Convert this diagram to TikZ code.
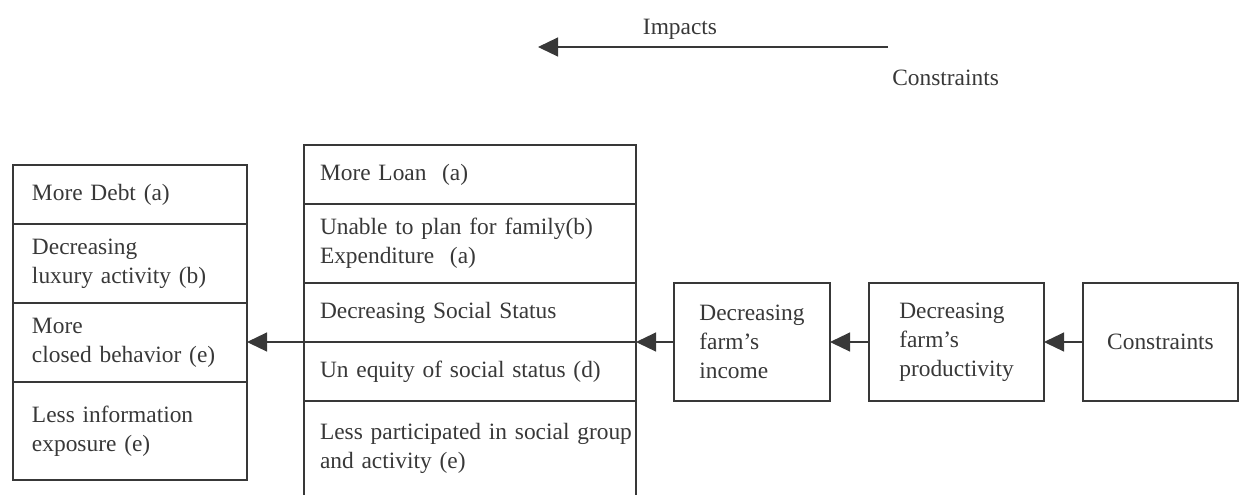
\documentclass[tikz,border=0pt]{standalone}
\usepackage{fontspec}
\setmainfont{Liberation Serif}
\usetikzlibrary{arrows.meta}
\definecolor{ink}{HTML}{383838}
\def\px{0.5pt}

\begin{document}
\begin{tikzpicture}[x=\px, y=-\px, line width=0.6pt, color=ink,
    every node/.style={font=\fontsize{11.7}{14.6}\selectfont},
    leftcell/.style={draw, anchor=north west, outer sep=0pt, inner xsep=9.5pt, inner ysep=0pt, text width=98pt, align=left},
    midcell/.style={draw, anchor=north west, outer sep=0pt, inner xsep=8pt, inner ysep=0pt, text width=150pt, align=left},
    chainbox/.style={draw, outer sep=0pt, minimum height=118*\px, inner sep=0pt, align=left},
    arr/.style={-{Triangle[length=10pt, width=9.5pt]}}]
      \useasboundingbox (0,0) rectangle (1239,495);
      \node[leftcell, minimum height=59*\px] (l1) at (13,165) {More Debt (a)};
      \node[leftcell, minimum height=79*\px] (l2) at (13,224) {Decreasing\\luxury activity (b)};
      \node[leftcell, minimum height=79*\px] (l3) at (13,303) {More\\closed behavior (e)};
      \node[leftcell, minimum height=98*\px] (l4) at (13,382) {Less information\\exposure (e)};
      \node[midcell, minimum height=59*\px] (m1) at (304,145) {More Loan\ \ (a)};
      \node[midcell, minimum height=79*\px] (m2) at (304,204) {Unable to plan for family(b)\\Expenditure\ \ (a)};
      \node[midcell, minimum height=59*\px] (m3) at (304,283) {Decreasing Social Status};
      \node[midcell, minimum height=59*\px] (m4) at (304,342) {Un equity of social status (d)};
      \node[midcell, draw=none, minimum height=94*\px] (m5) at (304,401) {\makebox[150pt][l]{Less participated in social group}\\and activity (e)};
      \draw (m4.south west) -- (m4.south west |- m5.south) (m4.south east) -- (m4.south east |- m5.south);
      \node[chainbox, minimum width=156*\px] (income) at (752,342) {Decreasing\\farm’s\\income};
      \node[chainbox, minimum width=175*\px] (prod) at (956.5,342) {Decreasing\\farm’s\\productivity};
      \node[chainbox, minimum width=155*\px] (cons) at (1160.5,342) {Constraints};
      \draw[arr] (cons.west) -- (prod.east);
      \draw[arr] (prod.west) -- (income.east);
      \draw[arr] (income.west) -- (income.west -| m3.east);
      \draw[arr] (income.west -| m3.west) -- (income.west -| l3.east);
      \coordinate (topright) at (888,47);
      \coordinate (topleft) at (538,47);
      \draw[arr] (topright) -- (topleft);
      \node (impacts) at (680,29) {Impacts};
      \node[anchor=west] (constop) at (885,78) {Constraints};
    \end{tikzpicture}
\end{document}
